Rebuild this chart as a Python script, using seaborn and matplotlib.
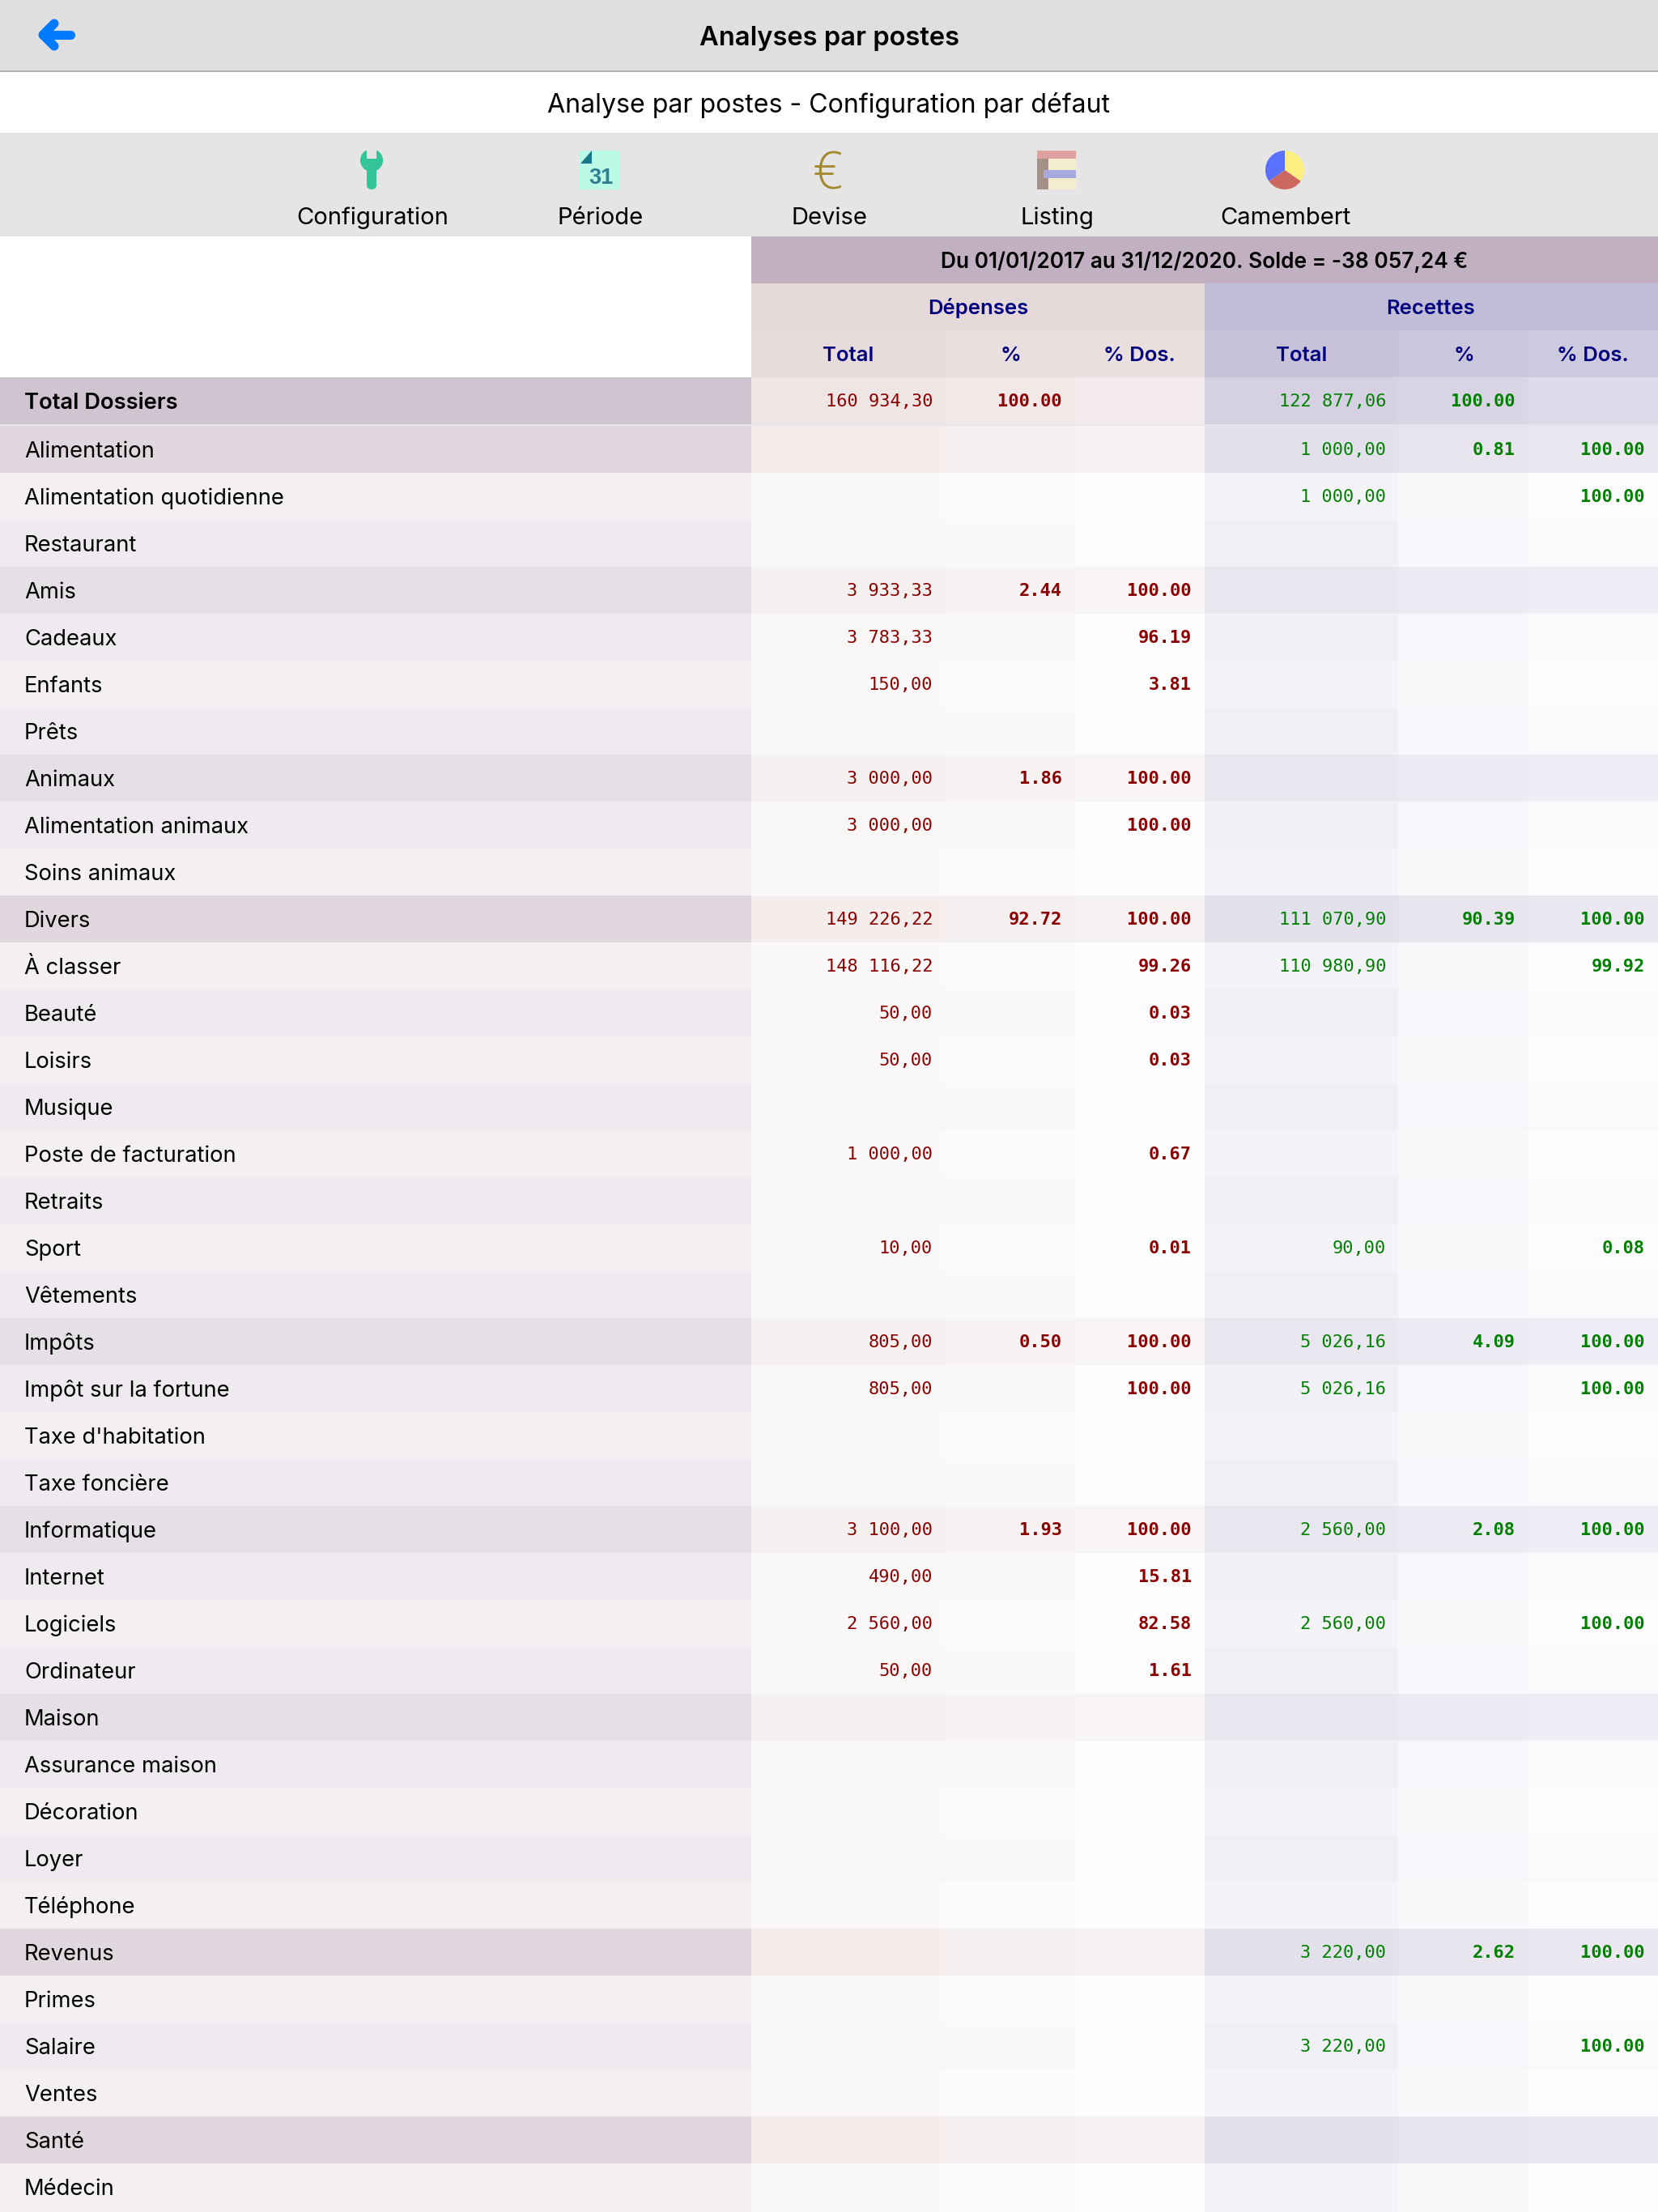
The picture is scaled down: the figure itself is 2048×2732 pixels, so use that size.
import numpy as np
import matplotlib
matplotlib.use('Agg')
import matplotlib.pyplot as plt
from matplotlib.colors import ListedColormap
from matplotlib.patches import Rectangle, Polygon, Ellipse
import seaborn as sns

# --- table content ---
postes = ['Alimentation', 'Alimentation quotidienne', 'Restaurant', 'Amis', 'Cadeaux', 'Enfants', 'Prêts',
          'Animaux', 'Alimentation animaux', 'Soins animaux', 'Divers', 'À classer', 'Beauté', 'Loisirs',
          'Musique', 'Poste de facturation', 'Retraits', 'Sport', 'Vêtements', 'Impôts',
          'Impôt sur la fortune', "Taxe d'habitation", 'Taxe foncière', 'Informatique', 'Internet',
          'Logiciels', 'Ordinateur', 'Maison', 'Assurance maison', 'Décoration', 'Loyer', 'Téléphone',
          'Revenus', 'Primes', 'Salaire', 'Ventes', 'Santé', 'Médecin']
groupes = ['Alimentation', 'Amis', 'Animaux', 'Divers', 'Impôts', 'Informatique', 'Maison', 'Revenus', 'Santé']

dep_total = {'Amis': '3 933,33', 'Cadeaux': '3 783,33', 'Enfants': '150,00', 'Animaux': '3 000,00',
             'Alimentation animaux': '3 000,00', 'Divers': '149 226,22', 'À classer': '148 116,22',
             'Beauté': '50,00', 'Loisirs': '50,00', 'Poste de facturation': '1 000,00', 'Sport': '10,00',
             'Impôts': '805,00', 'Impôt sur la fortune': '805,00', 'Informatique': '3 100,00',
             'Internet': '490,00', 'Logiciels': '2 560,00', 'Ordinateur': '50,00'}
dep_pct = {'Amis': '2.44', 'Animaux': '1.86', 'Divers': '92.72', 'Impôts': '0.50', 'Informatique': '1.93'}
dep_dos = {'Amis': '100.00', 'Cadeaux': '96.19', 'Enfants': '3.81', 'Animaux': '100.00',
           'Alimentation animaux': '100.00', 'Divers': '100.00', 'À classer': '99.26', 'Beauté': '0.03',
           'Loisirs': '0.03', 'Poste de facturation': '0.67', 'Sport': '0.01', 'Impôts': '100.00',
           'Impôt sur la fortune': '100.00', 'Informatique': '100.00', 'Internet': '15.81',
           'Logiciels': '82.58', 'Ordinateur': '1.61'}
rec_total = {'Alimentation': '1 000,00', 'Alimentation quotidienne': '1 000,00', 'Divers': '111 070,90',
             'À classer': '110 980,90', 'Sport': '90,00', 'Impôts': '5 026,16',
             'Impôt sur la fortune': '5 026,16', 'Informatique': '2 560,00', 'Logiciels': '2 560,00',
             'Revenus': '3 220,00', 'Salaire': '3 220,00'}
rec_pct = {'Alimentation': '0.81', 'Divers': '90.39', 'Impôts': '4.09', 'Informatique': '2.08', 'Revenus': '2.62'}
rec_dos = {'Alimentation': '100.00', 'Alimentation quotidienne': '100.00', 'Divers': '100.00',
           'À classer': '99.92', 'Sport': '0.08', 'Impôts': '100.00', 'Impôt sur la fortune': '100.00',
           'Informatique': '100.00', 'Logiciels': '100.00', 'Revenus': '100.00', 'Salaire': '100.00'}
total_dossiers = ['160 934,30', '100.00', '', '122 877,06', '100.00', '']

colonnes = ['Total', '%', '% Dos.', 'Total', '%', '% Dos.']
periode = 'Du 01/01/2017 au 31/12/2020. Solde = -38 057,24 €'
boutons = ['Configuration', 'Période', 'Devise', 'Listing', 'Camembert']
camembert = [125, 110, 125]

# --- layout, in pixels of the screenshot ---
W, H = 2048, 2732
ROW_Y0, ROW_H = 526, 58
ROW_END = ROW_Y0 + len(postes) * ROW_H
COL_X = [0, 928, 1167, 1328, 1488, 1727, 1887, 2048]
RIGHT = [1152, 1312, 1472, 1712, 1872, 2032]
# shades: even group, odd group, even row, odd row
SHADES = [['#E1D7DF', '#E5DFE6', '#EEEAEF', '#F3EFF3'],
          ['#F5ECEC', '#F5F0F0', '#F8F7F5', '#FAF8F9'],
          ['#F5F0F0', '#F7F3F3', '#FAF8F9', '#FCFAFB'],
          ['#F6F2F1', '#F8F4F4', '#FCFCFC', '#FEFEFE'],
          ['#E2E0EB', '#E9E6EF', '#F1F0F6', '#F4F3F8'],
          ['#E8E5EF', '#ECEAF3', '#F7F6FA', '#F9F8FB'],
          ['#EBE8F1', '#EFEDF5', '#FAF9FC', '#FCFBFD']]
TOTAL_SHADE = ['#D1C4D1', '#EFE5E5', '#F1E8E8', '#F3EAEB', '#D6D1E2', '#DAD5E5', '#DEDAE9']
HEAD_SHADE = ['#E7DCDC', '#E9DFDF', '#EADFDF', '#C7C2DA', '#CBC6DC', '#CDC9DE']
RED, GREEN, NAVY = '#8B0000', '#008000', '#000080'

sns.set_theme(style='white')
plt.rcParams['font.family'] = ['Inter', 'DejaVu Sans']
fig = plt.figure(figsize=(W / 100, H / 100), dpi=100, facecolor='white')


def rect_axes(x0, y0, x1, y1):
    return fig.add_axes([x0 / W, 1 - y1 / H, (x1 - x0) / W, (y1 - y0) / H])


# body of the table, one heatmap per column since the widths differ
etats = np.array([(0 if i % 2 == 0 else 1) if p in groupes else (2 if i % 2 == 0 else 3)
                  for i, p in enumerate(postes)])
for c in range(7):
    ax = rect_axes(COL_X[c], ROW_Y0, COL_X[c + 1], ROW_END)
    sns.heatmap(etats.reshape(-1, 1), cmap=ListedColormap(SHADES[c]), vmin=-0.5, vmax=3.5, cbar=False,
                xticklabels=False, yticklabels=False, ax=ax)
    ax.collections[0].set_antialiased(False)

    # total row on top of the body
    ax_t = rect_axes(COL_X[c], 466, COL_X[c + 1], 524)
    sns.heatmap(np.array([[0]]), cmap=ListedColormap([TOTAL_SHADE[c]]), cbar=False,
                xticklabels=False, yticklabels=False, ax=ax_t)

# everything else goes on an overlay in pixel coordinates
ov = fig.add_axes([0, 0, 1, 1], zorder=5)
ov.set_xlim(0, W)
ov.set_ylim(H, 0)
ov.axis('off')
ov.patch.set_alpha(0)


def band(x0, y0, x1, y1, color):
    ov.add_patch(Rectangle((x0, y0), x1 - x0, y1 - y0, facecolor=color, edgecolor='none'))


band(0, 0, W, 87, '#DFDFDF')
band(0, 87, W, 89, '#B2B2B2')
band(0, 164, W, 292, '#E5E5E5')
band(928, 292, W, 350, '#C1AFC2')
band(928, 350, 1488, 408, '#E5D8D8')
band(1488, 350, W, 408, '#C2BDD6')
for c in range(6):
    band(COL_X[c + 1], 408, COL_X[c + 2], 466, HEAD_SHADE[c])
band(0, 524, 1488, 526, '#E9E6E9')
band(1488, 524, W, 526, '#E6E3EC')
# the last row runs on to the bottom of the screen
for c in range(7):
    band(COL_X[c], ROW_END, COL_X[c + 1], H, SHADES[c][3])

# back arrow
ov.plot([67, 53, 67], [29, 43, 57], color='#007AFF', lw=8, solid_capstyle='round', solid_joinstyle='round')
ov.plot([53, 87], [43, 43], color='#007AFF', lw=8, solid_capstyle='round')

# titles
ov.text(1024, 56, 'Analyses par postes', ha='center', va='baseline', fontsize=23.5, fontweight='semibold', color='black')
ov.text(1024, 139, 'Analyse par postes - Configuration par défaut', ha='center', va='baseline', fontsize=23.1, color='black')

# toolbar
for lbl, x in zip(boutons, [460, 742, 1024, 1306, 1588]):
    ov.text(x, 277, lbl, ha='center', va='baseline', fontsize=21, color='black')

# wrench icon
ov.add_patch(Ellipse((459, 198), 28, 28, facecolor='#33C598', edgecolor='none'))
ov.add_patch(Rectangle((453, 205), 12, 24, facecolor='#33C598', edgecolor='none'))
ov.add_patch(Ellipse((459, 229), 12, 10, facecolor='#33C598', edgecolor='none'))
band(453, 184, 465, 196, '#E5E5E5')
band(445, 182, 473, 186, '#E5E5E5')

# calendar icon
band(716, 186, 765, 234, '#BCFAE8')
ov.add_patch(Polygon([[731, 186], [731, 202], [717, 202]], facecolor='#1A7A8A', edgecolor='none'))
ov.text(742.5, 227, '31', ha='center', va='baseline', fontsize=19.5, fontweight='bold', color='#2F7F8F',
        family='Liberation Sans')

# euro icon
ov.text(1022, 234, '€', ha='center', va='baseline', fontsize=47, color='#A38A2E', family='Open Sans', fontweight='light')

# listing icon
band(1281, 186, 1329, 196, '#E0A0A0')
band(1281, 196, 1295, 234, '#A39187')
band(1295, 196, 1329, 234, '#F3EDCF')
band(1289, 210, 1329, 220, '#A8A8DC')

# pie icon
ax_pie = rect_axes(1563, 186, 1611, 234)
ax_pie.pie(camembert, colors=['#FFEE80', '#CD6860', '#5A70FF'], startangle=90, counterclock=False,
           radius=1.0, wedgeprops={'linewidth': 0})
ax_pie.set_xlim(-1, 1)
ax_pie.set_ylim(-1, 1)
ax_pie.set_zorder(6)
ax_pie.patch.set_alpha(0)

# header texts
ov.text(1488, 331, periode, ha='center', va='baseline', fontsize=18.9, fontweight='semibold', color='black')
ov.text(1208, 388, 'Dépenses', ha='center', va='baseline', fontsize=18.5, fontweight='semibold', color=NAVY)
ov.text(1767, 388, 'Recettes', ha='center', va='baseline', fontsize=18.5, fontweight='semibold', color=NAVY)
for lbl, x in zip(colonnes, [1048, 1248, 1407, 1608, 1808, 1967]):
    ov.text(x, 446, lbl, ha='center', va='baseline', fontsize=18.5, fontweight='semibold', color=NAVY)

# total row
ov.text(30, 505, 'Total Dossiers', ha='left', va='baseline', fontsize=19.7, fontweight='semibold', color='black')
for c, val in enumerate(total_dossiers):
    ov.text(RIGHT[c], 502, val, ha='right', va='baseline', family='DejaVu Sans Mono', fontsize=15.8,
            color=RED if c < 3 else GREEN, fontweight='normal' if c % 3 == 0 else 'bold')

# rows
valeurs = [dep_total, dep_pct, dep_dos, rec_total, rec_pct, rec_dos]
for i, poste in enumerate(postes):
    yc = ROW_Y0 + (i + 0.5) * ROW_H
    ov.text(30, yc + 10, poste, ha='left', va='baseline', fontsize=19.7, color='black')
    for c, col in enumerate(valeurs):
        if poste in col:
            ov.text(RIGHT[c], yc + 7, col[poste], ha='right', va='baseline', family='DejaVu Sans Mono',
                    fontsize=15.8, color=RED if c < 3 else GREEN, fontweight='normal' if c % 3 == 0 else 'bold')

fig.savefig('out.png', dpi=100)
plt.close(fig)
